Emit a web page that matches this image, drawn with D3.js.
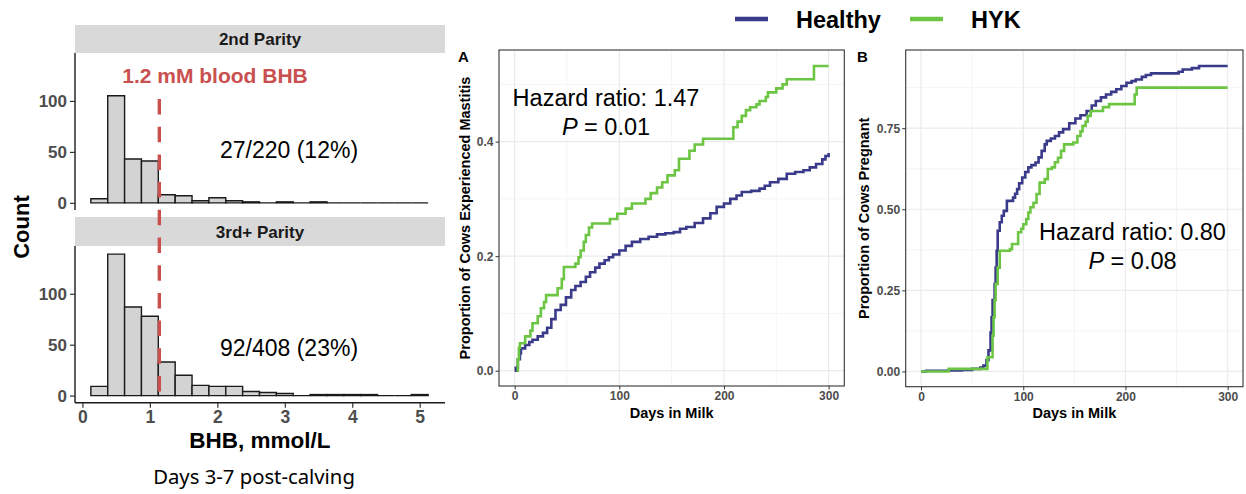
<!DOCTYPE html>
<html><head><meta charset="utf-8">
<script src="https://cdn.jsdelivr.net/npm/d3@7"></script>
<style>
html,body{margin:0;padding:0;background:#fff;}
svg{display:block;}
text{font-family:"Liberation Sans",Arial,sans-serif;}
</style></head>
<body>
<svg id="chart" width="1246" height="494"></svg>
<script>
// ---------------- DATA ----------------
const binCenters = [0.25,0.5,0.75,1.0,1.25,1.5,1.75,2.0,2.25,2.5,2.75,3.0,3.25,3.5,3.75,4.0,4.25,4.5,4.75,5.0];
const binWidth = 0.25;
const counts2nd = [4,105,43,41,8,7,2,5,2,1,0,1,0,1,0,0,0,0,0,0];
const counts3rd = [9,139,87,78,33,20,10,9,9,4,3,2,0,1,1,1,1,0,0,1];
const facetLabels = ["2nd Parity","3rd+ Parity"];
const facetNotes = ["27/220 (12%)","92/408 (23%)"];
const bhbThreshold = 1.14;
const histXTicks = [0,1,2,3,4,5];
const histYTicks = [0,50,100];

const seriesNames = ["Healthy","HYK"];
const seriesColors = ["#3a3a8a","#6cc644"];

// Panel A: cumulative mastitis [day, proportion]
const mastitisHealthy = [[0,0],[1,0.005],[3,0.02],[5,0.03],[6,0.039],[10,0.045],[14,0.05],[17,0.054],[22,0.06],[27,0.066],[31,0.075],[35,0.09],[39,0.106],[44,0.115],[49,0.128],[54,0.141],[58,0.148],[63,0.155],[68,0.164],[72,0.172],[77,0.18],[81,0.187],[86,0.193],[90,0.198],[94,0.203],[100,0.21],[106,0.218],[112,0.225],[120,0.23],[128,0.234],[136,0.238],[144,0.24],[152,0.242],[158,0.248],[164,0.251],[172,0.258],[180,0.266],[187,0.275],[193,0.286],[200,0.292],[206,0.3],[212,0.306],[217,0.312],[226,0.314],[234,0.318],[239,0.323],[244,0.329],[252,0.335],[260,0.344],[268,0.347],[276,0.35],[282,0.355],[288,0.361],[294,0.369],[297,0.375],[300,0.38]];
const mastitisHYK = [[2,0],[3,0.02],[4,0.04],[5,0.048],[10,0.06],[15,0.07],[17,0.083],[22,0.095],[25,0.109],[28,0.12],[30,0.132],[38,0.132],[41,0.144],[45,0.16],[47,0.181],[56,0.181],[58,0.187],[61,0.198],[63,0.21],[66,0.225],[68,0.237],[71,0.25],[74,0.257],[88,0.257],[91,0.265],[98,0.274],[106,0.283],[112,0.292],[122,0.292],[125,0.3],[130,0.31],[136,0.32],[141,0.329],[146,0.341],[153,0.35],[157,0.37],[164,0.37],[167,0.384],[172,0.395],[180,0.405],[206,0.405],[209,0.425],[213,0.435],[217,0.445],[221,0.455],[225,0.46],[231,0.465],[234,0.471],[240,0.478],[242,0.486],[250,0.493],[256,0.5],[260,0.509],[285,0.509],[286,0.532],[300,0.532]];

// Panel B: cumulative pregnancy [day, proportion]
const pregHealthy = [[0,0],[5,0.002],[27,0.003],[40,0.005],[50,0.008],[58,0.012],[61,0.018],[64,0.035],[66,0.065],[68,0.12],[69,0.167],[70,0.22],[72,0.27],[73,0.32],[74,0.372],[75,0.434],[77,0.46],[79,0.48],[81,0.495],[84,0.526],[90,0.536],[92,0.548],[94,0.562],[96,0.58],[99,0.598],[102,0.615],[105,0.629],[108,0.636],[112,0.644],[115,0.66],[118,0.68],[121,0.7],[123,0.711],[127,0.718],[131,0.726],[135,0.737],[139,0.747],[145,0.765],[151,0.78],[156,0.79],[162,0.803],[167,0.82],[171,0.834],[176,0.845],[181,0.854],[186,0.862],[191,0.87],[196,0.88],[201,0.89],[206,0.895],[210,0.9],[216,0.908],[220,0.914],[225,0.919],[252,0.924],[256,0.931],[265,0.935],[272,0.9415],[300,0.9415]];
const pregHYK = [[0,0],[27,0.008],[65,0.044],[70,0.11],[71,0.167],[72,0.22],[73,0.27],[75,0.32],[77,0.372],[87,0.377],[89,0.393],[95,0.429],[98,0.44],[100,0.454],[103,0.47],[105,0.49],[107,0.506],[110,0.52],[113,0.547],[116,0.582],[121,0.593],[124,0.624],[128,0.629],[131,0.645],[134,0.659],[137,0.68],[140,0.7],[149,0.706],[153,0.726],[156,0.74],[158,0.757],[161,0.77],[163,0.788],[166,0.803],[175,0.803],[178,0.815],[184,0.824],[207,0.824],[209,0.854],[211,0.875],[300,0.875]];

const kmXTicks = [0,100,200,300];
const kmXMinor = [50,150,250];
const aYTicks = [0,0.2,0.4];
const aYMinor = [0.1,0.3,0.5];
const bYTicks = [0,0.25,0.5,0.75];
const bYMinor = [0.125,0.375,0.625,0.875];

// ---------------- DRAW ----------------
const svg = d3.select("#chart");
const tickGray = "#4d4d4d";

// ----- Histograms -----
const xH = d3.scaleLinear().domain([-0.125,5.375]).range([74,445]);
const facets = [
  {counts:counts2nd, stripTop:25, stripBot:53, panelBot:210, note:facetNotes[0], noteY:158, label:facetLabels[0]},
  {counts:counts3rd, stripTop:217, stripBot:246, panelBot:402.7, note:facetNotes[1], noteY:356, label:facetLabels[1]}
];
facets.forEach((f,i)=>{
  const y = d3.scaleLinear().domain([-7,147]).range([f.panelBot, f.stripBot]);
  const g = svg.append("g");
  g.append("rect").attr("x",75).attr("y",f.stripTop).attr("width",370).attr("height",f.stripBot-f.stripTop).attr("fill","#d9d9d9");
  g.append("text").attr("x",260).attr("y",(f.stripTop+f.stripBot)/2+6).attr("text-anchor","middle")
    .attr("font-size",17).attr("font-weight","bold").attr("fill","#1a1a1a").text(f.label);
  g.selectAll("path.bar").data(binCenters).join("path").attr("class","bar")
    .attr("d",(d,j)=>{
      const x0 = xH(d-binWidth/2), x1 = xH(d+binWidth/2), y0 = y(0), y1 = y(f.counts[j]);
      return `M${x0},${y0}V${y1}H${x1}V${y0}Z`;
    })
    .attr("fill","#d3d3d3").attr("stroke","#1a1a1a").attr("stroke-width",1.4);
  const ay = g.append("g").attr("transform","translate(75,0)")
    .call(d3.axisLeft(y).tickValues(histYTicks).tickSize(5).tickPadding(3));
  ay.select(".domain").attr("stroke","#1a1a1a").attr("stroke-width",1.4).attr("d",`M0,${f.stripBot}V${f.panelBot}`);
  ay.selectAll(".tick line").attr("stroke","#333").attr("stroke-width",1.2);
  ay.selectAll(".tick text").attr("font-size",17).attr("font-weight","bold").attr("fill",tickGray).attr("font-family","Liberation Sans, Arial");
  if(i===1){
    const ax = g.append("g").attr("transform",`translate(0,${f.panelBot})`)
      .call(d3.axisBottom(xH).tickValues(histXTicks).tickFormat(d3.format("d")).tickSize(5).tickPadding(3));
    ax.select(".domain").attr("stroke","#1a1a1a").attr("stroke-width",1.4).attr("d","M75,0H445");
    ax.selectAll(".tick line").attr("stroke","#333").attr("stroke-width",1.2);
    ax.selectAll(".tick text").attr("font-size",17.5).attr("font-weight","bold").attr("fill",tickGray).attr("font-family","Liberation Sans, Arial");
  }
  g.append("text").attr("x",289).attr("y",f.noteY).attr("text-anchor","middle").attr("font-size",23).attr("fill","#000").text(f.note);
});
svg.append("line").attr("x1",xH(bhbThreshold)).attr("x2",xH(bhbThreshold)).attr("y1",99).attr("y2",397)
  .attr("stroke","#c9504f").attr("stroke-width",3.4).attr("stroke-dasharray","15.5,12.2");
svg.append("text").attr("x",215).attr("y",83).attr("text-anchor","middle").attr("font-size",21).attr("font-weight","bold")
  .attr("fill","#c9504f").text("1.2 mM blood BHB");
svg.append("text").attr("transform","translate(29,227) rotate(-90)").attr("text-anchor","middle").attr("font-size",22)
  .attr("font-weight","bold").attr("fill","#000").text("Count");
svg.append("text").attr("x",260).attr("y",448).attr("text-anchor","middle").attr("font-size",22.5)
  .attr("font-weight","bold").attr("fill","#000").text("BHB, mmol/L");
svg.append("text").attr("x",254).attr("y",484).attr("text-anchor","middle").attr("font-size",20.3)
  .style("font-family","'Noto Sans','Open Sans',sans-serif").attr("fill","#000").text("Days 3-7 post-calving");

// ----- KM panels -----
function kmPanel(opt){
  const x = d3.scaleLinear().domain([-15,315]).range([opt.left,opt.right]);
  const y = d3.scaleLinear().domain(opt.yDomain).range([opt.bottom,opt.top]);
  const g = svg.append("g");
  g.append("rect").attr("x",opt.left).attr("y",opt.top).attr("width",opt.right-opt.left).attr("height",opt.bottom-opt.top).attr("fill","#fff");
  g.selectAll("line.mx").data(kmXMinor).join("line").attr("x1",d=>x(d)).attr("x2",d=>x(d)).attr("y1",opt.top).attr("y2",opt.bottom).attr("stroke","#f2f2f2").attr("stroke-width",0.8);
  g.selectAll("line.my").data(opt.yMinor).join("line").attr("y1",d=>y(d)).attr("y2",d=>y(d)).attr("x1",opt.left).attr("x2",opt.right).attr("stroke","#f2f2f2").attr("stroke-width",0.8);
  g.selectAll("line.gx").data(kmXTicks).join("line").attr("x1",d=>x(d)).attr("x2",d=>x(d)).attr("y1",opt.top).attr("y2",opt.bottom).attr("stroke","#ebebeb").attr("stroke-width",1.2);
  g.selectAll("line.gy").data(opt.yTicks).join("line").attr("y1",d=>y(d)).attr("y2",d=>y(d)).attr("x1",opt.left).attr("x2",opt.right).attr("stroke","#ebebeb").attr("stroke-width",1.2);
  const line = d3.line().x(d=>x(d[0])).y(d=>y(d[1])).curve(d3.curveStepAfter);
  opt.series.forEach((s,i)=>{
    g.append("path").attr("d",line(s)).attr("fill","none").attr("stroke",seriesColors[i]).attr("stroke-width",2.6);
  });
  g.append("rect").attr("x",opt.left).attr("y",opt.top).attr("width",opt.right-opt.left).attr("height",opt.bottom-opt.top).attr("fill","none").attr("stroke","#333").attr("stroke-width",1.1);
  const ax = g.append("g").attr("transform",`translate(0,${opt.bottom})`).call(d3.axisBottom(x).tickValues(kmXTicks).tickSize(3.5).tickPadding(2));
  ax.select(".domain").remove();
  ax.selectAll(".tick line").attr("stroke","#333");
  ax.selectAll(".tick text").attr("font-size",12).attr("font-weight","bold").attr("fill",tickGray).attr("font-family","Liberation Sans, Arial");
  const ay = g.append("g").attr("transform",`translate(${opt.left},0)`).call(d3.axisLeft(y).tickValues(opt.yTicks).tickFormat(opt.fmt).tickSize(3.5).tickPadding(2));
  ay.select(".domain").remove();
  ay.selectAll(".tick line").attr("stroke","#333");
  ay.selectAll(".tick text").attr("font-size",12).attr("font-weight","bold").attr("fill",tickGray).attr("font-family","Liberation Sans, Arial");
  g.append("text").attr("x",(opt.left+opt.right)/2).attr("y",418).attr("text-anchor","middle").attr("font-size",14.5).attr("font-weight","bold").attr("fill","#000").text("Days in Milk");
  g.append("text").attr("transform",`translate(${opt.titleX},${(opt.top+opt.bottom)/2}) rotate(-90)`).attr("text-anchor","middle").attr("font-size",14.5).attr("font-weight","bold").attr("fill","#000").text(opt.yTitle);
  g.append("text").attr("x",opt.tagX).attr("y",62).attr("font-size",15).attr("font-weight","bold").attr("fill","#000").text(opt.tag);
  g.append("text").attr("x",opt.hrX).attr("y",opt.hrY).attr("text-anchor","middle").attr("font-size",23.5).attr("fill","#000").text(opt.hr);
  const p = g.append("text").attr("x",opt.hrX).attr("y",opt.hrY+29).attr("text-anchor","middle").attr("font-size",23.5).attr("fill","#000");
  p.append("tspan").attr("font-style","italic").text("P");
  p.append("tspan").text(" = "+opt.p);
}
kmPanel({left:499,right:844.3,top:50,bottom:386,yDomain:[-0.0267,0.56],yTicks:aYTicks,yMinor:aYMinor,fmt:d3.format(".1f"),
  series:[mastitisHealthy,mastitisHYK],yTitle:"Proportion of Cows Experienced Mastitis",titleX:470,tag:"A",tagX:458,
  hr:"Hazard ratio: 1.47",p:"0.01",hrX:606,hrY:106});
kmPanel({left:905.7,right:1243,top:50,bottom:386.7,yDomain:[-0.047,0.991],yTicks:bYTicks,yMinor:bYMinor,fmt:d3.format(".2f"),
  series:[pregHealthy,pregHYK],yTitle:"Proportion of Cows Pregnant",titleX:869,tag:"B",tagX:857,
  hr:"Hazard ratio: 0.80",p:"0.08",hrX:1132.5,hrY:240});

// ----- Legend -----
const legX = [735,910];
const lg = svg.append("g");
seriesNames.forEach((n,i)=>{
  lg.append("line").attr("x1",legX[i]).attr("x2",legX[i]+33).attr("y1",19).attr("y2",19).attr("stroke",seriesColors[i]).attr("stroke-width",4.5);
  lg.append("text").attr("x",legX[i]+61).attr("y",28).attr("font-size",23.5).attr("font-weight","bold").attr("fill","#000").text(n);
});
</script>
</body></html>
